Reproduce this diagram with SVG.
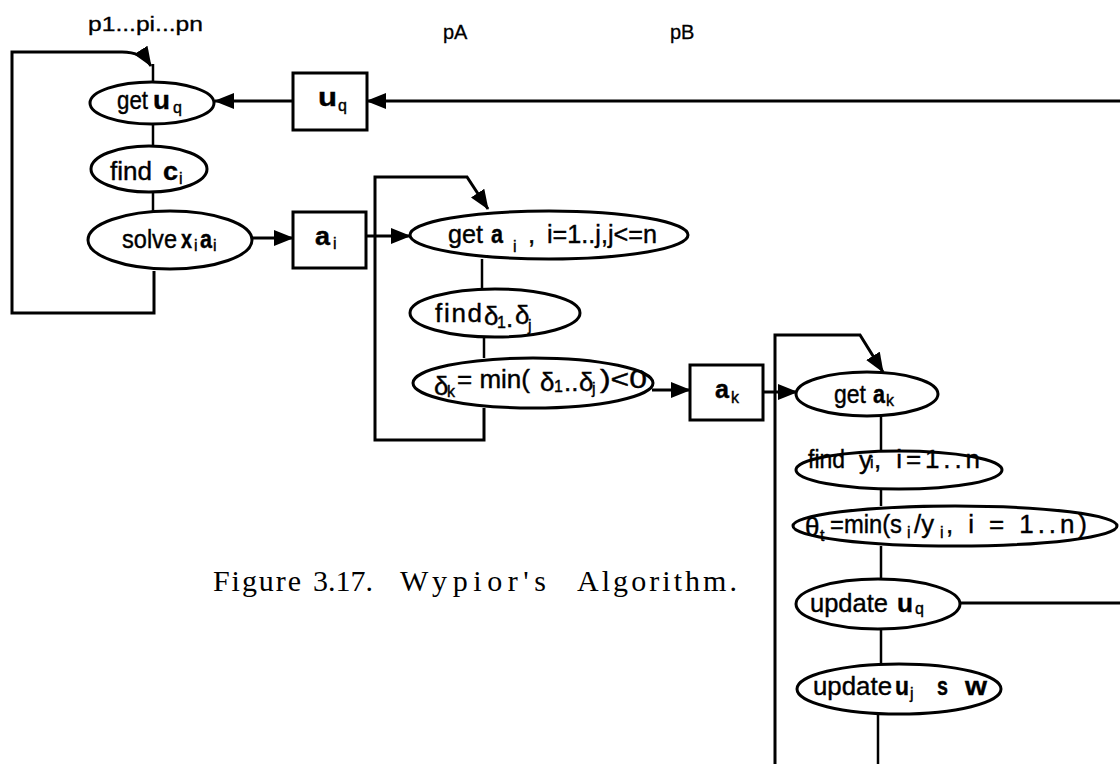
<svg xmlns="http://www.w3.org/2000/svg" width="1120" height="764" viewBox="0 0 1120 764">
  <style>
    .t { font-family: "Liberation Sans", Arial, sans-serif; font-size: 26px; fill: #000; stroke: #000; stroke-width: 0.4; }
    .b { font-weight: bold; }
    .s { font-size: 16px; }
    .lbl { font-family: "Liberation Sans", Arial, sans-serif; font-size: 20px; fill: #000; stroke: #000; stroke-width: 0.3; }
    .cap { font-family: "Liberation Serif", "Times New Roman", serif; font-size: 30px; fill: #000; }
    .ln { stroke: #000; stroke-width: 3; fill: none; }
    .thin { stroke: #000; stroke-width: 2.5; fill: none; }
    .el { fill: #fff; stroke: #000; stroke-width: 3; }
    .bx { fill: #fff; stroke: #000; stroke-width: 3; }
  </style>
  <defs>
    <marker id="arrow" markerUnits="userSpaceOnUse" markerWidth="20" markerHeight="16" refX="19" refY="8" orient="auto">
      <path d="M0,0 L20,8 L0,16 z" fill="#000"/>
    </marker>
  </defs>
  <rect width="1120" height="764" fill="#fff"/>

  <!-- process labels -->
  <text class="lbl" x="88" y="31" textLength="115" lengthAdjust="spacingAndGlyphs">p1...pi...pn</text>
  <text class="lbl" x="443" y="39">pA</text>
  <text class="lbl" x="670" y="39">pB</text>

  <!-- connectors -->
  <g id="connectors">
    <path class="ln" d="M154,271 V313 H12 V52 H122 Q142,52 151,66" marker-end="url(#arrow)"/>
    <path class="thin" d="M153,64 V82"/>
    <path class="ln" d="M1120,101 H367" marker-end="url(#arrow)"/>
    <path class="ln" d="M293,101 H215" marker-end="url(#arrow)"/>
    <path class="thin" d="M153,124 V146"/>
    <path class="thin" d="M153,192 V211"/>
    <path class="ln" d="M252,238 H293" marker-end="url(#arrow)"/>
    <path class="ln" d="M366,236 H410" marker-end="url(#arrow)"/>
    <path class="ln" d="M484,408 V440 H375 V177 H467 L488,209" marker-end="url(#arrow)"/>
    <path class="thin" d="M482,259 V289"/>
    <path class="thin" d="M484,337 V358"/>
    <path class="ln" d="M652,390 H690" marker-end="url(#arrow)"/>
    <path class="ln" d="M763,392 H797" marker-end="url(#arrow)"/>
    <path class="ln" d="M775,764 V335 H860 L883,372" marker-end="url(#arrow)"/>
    <path class="thin" d="M881,416 V451"/>
    <path class="thin" d="M881,489 V506"/>
    <path class="thin" d="M881,546 V579"/>
    <path class="ln" d="M960,603 H1120"/>
    <path class="thin" d="M881,629 V664"/>
    <path class="thin" d="M878,714 V764"/>
  </g>

  <!-- pi nodes -->
  <g id="get-uq">
    <ellipse class="el" cx="152" cy="103" rx="62" ry="21"/>
    <text class="t" x="117" y="109" textLength="31" lengthAdjust="spacingAndGlyphs">get</text>
    <text class="t b" x="153" y="109" textLength="17" lengthAdjust="spacingAndGlyphs">u</text>
    <text class="t s" x="173" y="113" font-size="17">q</text>
  </g>
  <g id="find-ci">
    <ellipse class="el" cx="149" cy="169" rx="58" ry="23"/>
    <text class="t" x="110" y="180" textLength="42" lengthAdjust="spacingAndGlyphs">find</text>
    <text class="t b" x="163" y="180" textLength="15" lengthAdjust="spacingAndGlyphs">c</text>
    <text class="t s" x="179" y="184" font-size="15">i</text>
  </g>
  <g id="solve">
    <ellipse class="el" cx="170" cy="240" rx="82" ry="29"/>
    <text class="t" x="122" y="248" textLength="55" lengthAdjust="spacingAndGlyphs">solve</text>
    <text class="t b" x="181" y="248" textLength="11" lengthAdjust="spacingAndGlyphs">x</text>
    <text class="t s" x="194" y="251" font-size="14">i</text>
    <text class="t b" x="200" y="248" textLength="12" lengthAdjust="spacingAndGlyphs">a</text>
    <text class="t s" x="213" y="251" font-size="14">i</text>
  </g>
  <g id="box-uq">
    <rect class="bx" x="293" y="73" width="74" height="57"/>
    <text class="t b" x="318" y="106" textLength="19" lengthAdjust="spacingAndGlyphs">u</text>
    <text class="t s" x="338" y="111" font-size="18">q</text>
  </g>
  <g id="box-ai">
    <rect class="bx" x="293" y="212" width="73" height="56"/>
    <text class="t b" x="315" y="245" textLength="15" lengthAdjust="spacingAndGlyphs">a</text>
    <text class="t s" x="333" y="249" font-size="15">i</text>
  </g>

  <!-- pA nodes -->
  <g id="get-ai">
    <ellipse class="el" cx="549" cy="235" rx="139" ry="24"/>
    <text class="t" x="448" y="243" textLength="35" lengthAdjust="spacingAndGlyphs">get</text>
    <text class="t b" x="491" y="243" textLength="12" lengthAdjust="spacingAndGlyphs">a</text>
    <text class="t s" x="513" y="252" font-size="16">i</text>
    <text class="t" x="528" y="243">,</text>
    <text class="t" x="547" y="243" textLength="110" lengthAdjust="spacingAndGlyphs">i=1..j,j&lt;=n</text>
  </g>
  <g id="find-delta">
    <ellipse class="el" cx="495" cy="313" rx="85" ry="24"/>
    <text class="t" x="435" y="322" textLength="47" lengthAdjust="spacing">find</text>
    <text class="t" x="484" y="325" font-size="22">δ</text>
    <text class="t s" x="497" y="328" font-size="14">1</text>
    <text class="t" x="506" y="327" font-size="20">.</text>
    <text class="t" x="515" y="324" font-size="22">δ</text>
    <text class="t s" x="528" y="331" font-size="14">j</text>
  </g>
  <g id="delta-k">
    <ellipse class="el" cx="533" cy="383" rx="120" ry="25"/>
    <text class="t" x="434" y="395" font-size="22">δ</text>
    <text class="t s" x="447" y="397" font-size="17">k</text>
    <text class="t" x="457" y="388" textLength="73" lengthAdjust="spacingAndGlyphs">= min(</text>
    <text class="t" x="540" y="391" font-size="22">δ</text>
    <text class="t s" x="554" y="392" font-size="15">1</text>
    <text class="t" x="564" y="391" font-size="20">..</text>
    <text class="t" x="579" y="391" font-size="22">δ</text>
    <text class="t s" x="592" y="394" font-size="15">j</text>
    <text class="t" x="600" y="388" textLength="47" lengthAdjust="spacingAndGlyphs">)&lt;0</text>
  </g>
  <g id="box-ak">
    <rect class="bx" x="690" y="365" width="73" height="55"/>
    <text class="t b" x="715" y="398" textLength="14" lengthAdjust="spacingAndGlyphs">a</text>
    <text class="t s" x="731" y="403" font-size="17">k</text>
  </g>

  <!-- pB nodes -->
  <g id="get-ak">
    <ellipse class="el" cx="867" cy="394" rx="71" ry="22"/>
    <text class="t" x="834" y="403" textLength="32" lengthAdjust="spacingAndGlyphs">get</text>
    <text class="t b" x="873" y="403" textLength="12" lengthAdjust="spacingAndGlyphs">a</text>
    <text class="t s" x="886" y="406" font-size="17">k</text>
  </g>
  <g id="find-yi">
    <ellipse class="el" cx="899" cy="470" rx="103" ry="19"/>
    <text class="t" x="808" y="468" textLength="37" lengthAdjust="spacingAndGlyphs">find</text>
    <text class="t" x="859" y="469" font-size="22">y</text>
    <text class="t s" x="870" y="468" font-size="15">i</text>
    <text class="t" x="874" y="468" textLength="106" lengthAdjust="spacing">, i=1..n</text>
  </g>
  <g id="theta">
    <ellipse class="el" cx="955" cy="526" rx="162" ry="20"/>
    <text class="t" x="805" y="536" font-size="20">θ</text>
    <text class="t s" x="820" y="541" font-size="15">t</text>
    <text class="t" x="830" y="533" textLength="72" lengthAdjust="spacingAndGlyphs">=min(s</text>
    <text class="t s" x="907" y="538" font-size="14">i</text>
    <text class="t" x="914" y="533" textLength="20" lengthAdjust="spacingAndGlyphs">/y</text>
    <text class="t s" x="940" y="538" font-size="14">i</text>
    <text class="t" x="946" y="533" textLength="141" lengthAdjust="spacing">, i = 1..n)</text>
  </g>
  <g id="update-uq">
    <ellipse class="el" cx="878" cy="604" rx="82" ry="25"/>
    <text class="t" x="810" y="612" textLength="78" lengthAdjust="spacingAndGlyphs">update</text>
    <text class="t b" x="897" y="612" textLength="16" lengthAdjust="spacingAndGlyphs">u</text>
    <text class="t s" x="915" y="614" font-size="17">q</text>
  </g>
  <g id="update-uj">
    <ellipse class="el" cx="899" cy="689" rx="102" ry="25"/>
    <text class="t" x="813" y="695" textLength="79" lengthAdjust="spacingAndGlyphs">update</text>
    <text class="t b" x="895" y="695" textLength="14" lengthAdjust="spacingAndGlyphs">u</text>
    <text class="t s" x="910" y="699" font-size="15">j</text>
    <text class="t b" x="937" y="695" textLength="11" lengthAdjust="spacingAndGlyphs">s</text>
    <text class="t b" x="965" y="695" textLength="22" lengthAdjust="spacingAndGlyphs">w</text>
  </g>

  <!-- caption -->
  <g id="caption">
    <text class="cap" x="213" y="591" textLength="88" lengthAdjust="spacing">Figure</text>
    <text class="cap" x="313" y="591" textLength="60" lengthAdjust="spacing">3.17.</text>
    <text class="cap" x="400" y="591" textLength="146" lengthAdjust="spacing">Wypior's</text>
    <text class="cap" x="577" y="591" textLength="160" lengthAdjust="spacing">Algorithm.</text>
  </g>
</svg>
